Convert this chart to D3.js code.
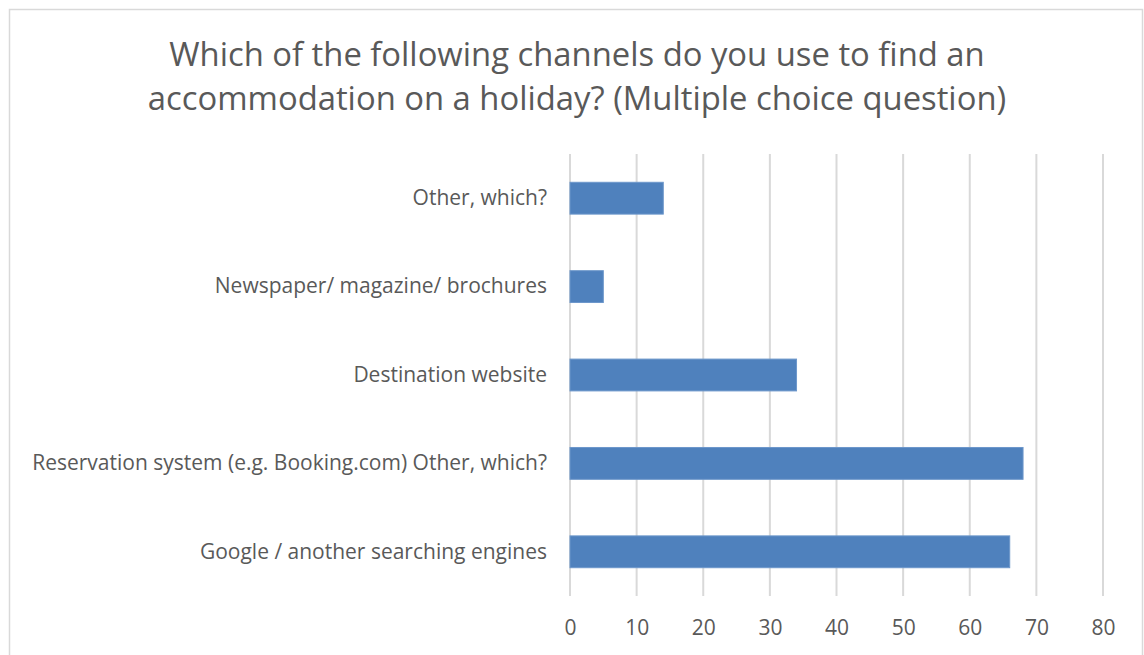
<!DOCTYPE html>
<html>
<head>
<meta charset="utf-8">
<script src="https://cdn.jsdelivr.net/npm/d3@7"></script>
<style>
  html, body { margin: 0; padding: 0; background: #fff; }
  svg { display: block; }
  text { font-family: "Open Sans", Lato, sans-serif; fill: #595959; }
</style>
</head>
<body>
<svg id="chart" width="1144" height="655"></svg>
<script>
// Survey responses: channels used to find holiday accommodation
const categories = [
  "Other, which?",
  "Newspaper/ magazine/ brochures",
  "Destination website",
  "Reservation system (e.g. Booking.com) Other, which?",
  "Google / another searching engines"
];
const values = [14, 5, 34, 68, 66];
const xTicks = [0, 10, 20, 30, 40, 50, 60, 70, 80];
const titleLines = [
  "Which of the following channels do you use to find an",
  "accommodation on a holiday? (Multiple choice question)"
];

const svg = d3.select("#chart");
const plot = { left: 570, right: 1103, top: 154, bottom: 596 };
const labelFont = 21;

// chart frame
svg.append("rect")
  .attr("x", 9.5).attr("y", 9.5)
  .attr("width", 1133).attr("height", 660)
  .attr("fill", "#fff")
  .attr("stroke", "#d9d9d9").attr("stroke-width", 1.5);

// title
svg.append("g").selectAll("text")
  .data(titleLines)
  .join("text")
  .attr("x", 577)
  .attr("y", (d, i) => 66 + i * 44)
  .attr("text-anchor", "middle")
  .attr("font-size", 32.8)
  .text(d => d);

const x = d3.scaleLinear().domain([0, 80]).range([plot.left, plot.right]);
const y = d3.scaleBand()
  .domain(categories)
  .range([plot.top, plot.bottom])
  .paddingInner(0.64)
  .paddingOuter(0.32);

// vertical gridlines
svg.append("g")
  .selectAll("line")
  .data(xTicks)
  .join("line")
  .attr("x1", d => x(d)).attr("x2", d => x(d))
  .attr("y1", plot.top).attr("y2", plot.bottom)
  .attr("stroke", "#d9d9d9")
  .attr("stroke-width", 2);

// bars
svg.append("g")
  .selectAll("rect")
  .data(values)
  .join("rect")
  .attr("x", x(0))
  .attr("y", (d, i) => y(categories[i]))
  .attr("width", d => x(d) - x(0))
  .attr("height", y.bandwidth())
  .attr("fill", "#4f81bd")
  .attr("stroke", "#6d97cb")
  .attr("stroke-width", 1);

// category axis
const yAxis = svg.append("g")
  .attr("transform", `translate(${plot.left},0)`)
  .call(d3.axisLeft(y).tickSize(0).tickPadding(23));
yAxis.select(".domain").remove();
yAxis.selectAll("text")
  .attr("font-size", labelFont)
  .attr("fill", "#595959")
  .style("font-family", "'Open Sans', Lato, sans-serif");

// value axis
const xAxis = svg.append("g")
  .attr("transform", `translate(0,${plot.bottom})`)
  .call(d3.axisBottom(x).tickValues(xTicks).tickSize(0).tickPadding(24));
xAxis.select(".domain").remove();
xAxis.selectAll("text")
  .attr("font-size", labelFont)
  .attr("fill", "#595959")
  .style("font-family", "'Open Sans', Lato, sans-serif");
</script>
</body>
</html>
